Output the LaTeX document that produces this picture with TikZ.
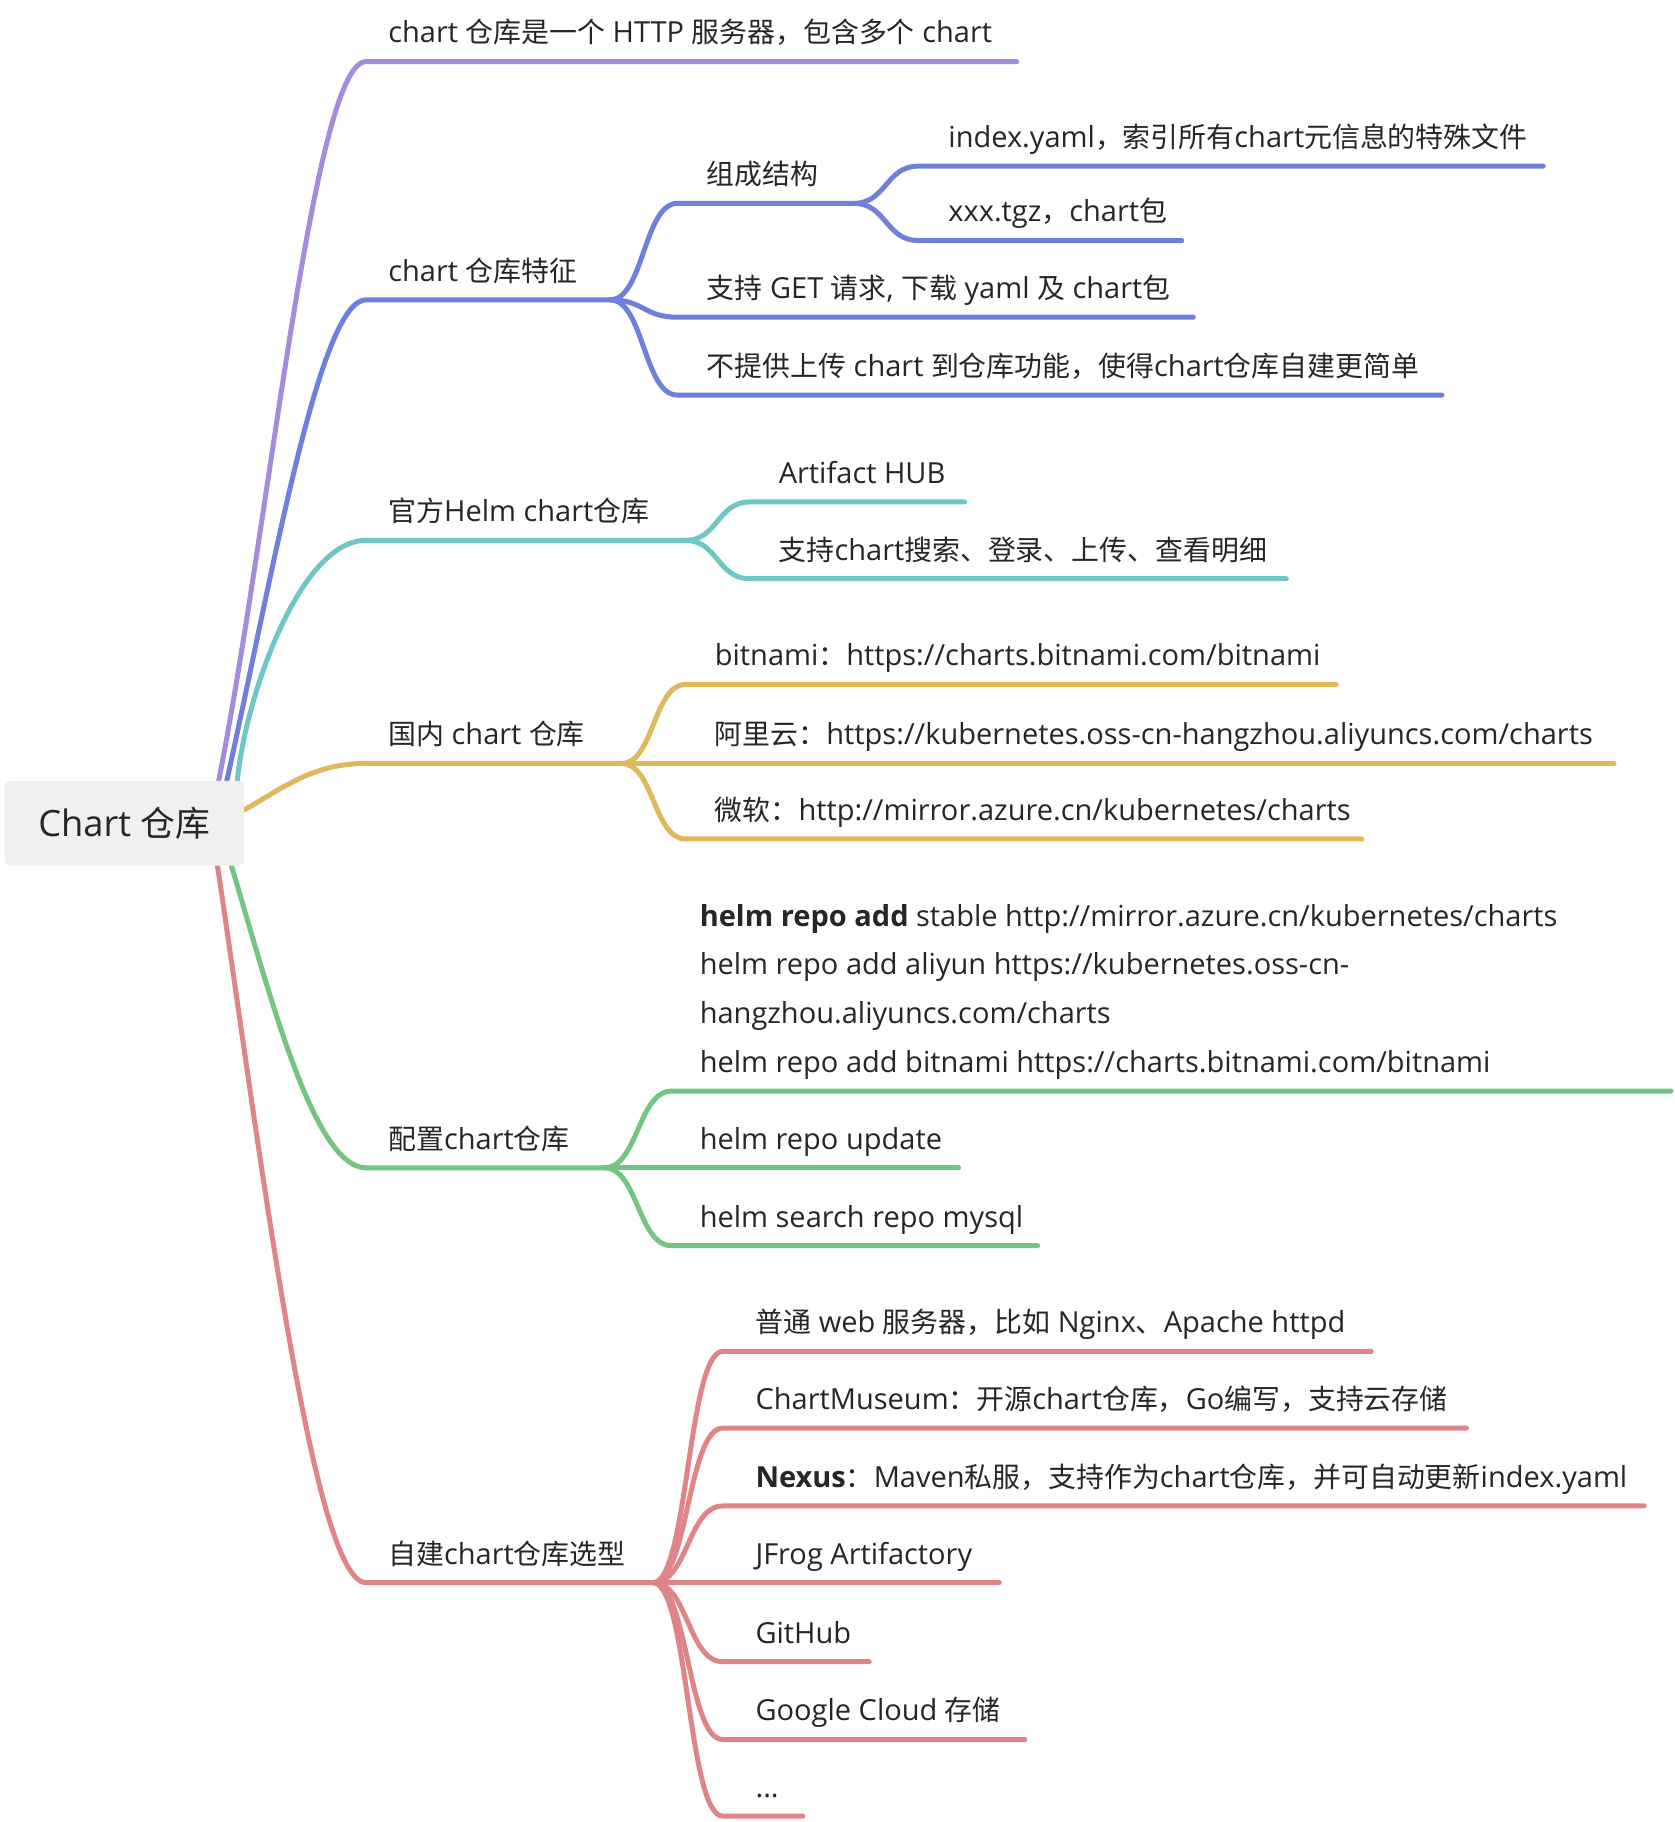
\documentclass[tikz,border=0pt]{standalone}
\usepackage{fontspec}
\setmainfont{Open Sans}[Scale=1.04]
\newfontfamily\cjkfont{Noto Sans CJK SC}
\usetikzlibrary{calc,backgrounds}
% automatic switch between Latin and CJK fonts
\XeTeXinterchartokenstate=1
\newXeTeXintercharclass\mycjkclass
\newcount\mycjkcnt
\def\mysetcjkrange#1#2{\mycjkcnt=#1\relax
  \loop\XeTeXcharclass\mycjkcnt=\mycjkclass\relax
  \ifnum\mycjkcnt<#2\relax\advance\mycjkcnt by 1\relax\repeat}
\mysetcjkrange{"3000}{"303F}
\mysetcjkrange{"4E00}{"9FFF}
\mysetcjkrange{"FF00}{"FFEF}
\XeTeXinterchartoks 0 \mycjkclass = {\cjkfont}
\XeTeXinterchartoks 4095 \mycjkclass = {\cjkfont}
\XeTeXinterchartoks \mycjkclass 0 = {\rmfamily}
\XeTeXinterchartoks \mycjkclass 4095 = {\rmfamily}

\definecolor{cPurple}{HTML}{A38CDB}
\definecolor{cBlue}{HTML}{6E80DB}
\definecolor{cCyan}{HTML}{6EC6C6}
\definecolor{cGold}{HTML}{E0B75A}
\definecolor{cGreen}{HTML}{74C581}
\definecolor{cRed}{HTML}{E08587}
\definecolor{textc}{HTML}{262626}
\definecolor{rootfill}{HTML}{EFF0F0}

\tikzset{
  lbl/.style={inner sep=0pt, anchor=base west, text=textc, font=\fontsize{24}{42}\selectfont},
  conn/.style={line width=4.3pt, line cap=round, line join=round},
  branch/.style={to path={let \p1=(\tikztostart), \p2=(\tikztotarget) in
     .. controls ({\x1+0.5*(\x2-\x1)}, \y1) and ({\x1+0.5*(\x2-\x1)}, \y2) .. (\tikztotarget)}},
}

\newcommand{\mmchild}[8]{%
  \coordinate (#1s) at (#4,#6);
  \coordinate (#1e) at (#5,#6);
  \node[lbl] (#1) at (#7,#6-16) {#8};
  \draw[conn,#2] (#3) to[branch] (#1s) -- (#1e);
}

\begin{document}
\begin{tikzpicture}[x=1pt,y=-1pt]
\useasboundingbox (0,0) rectangle (1441,1568);

% root
\node[fill=rootfill, rounded corners=5pt, minimum width=206pt, minimum height=73pt, inner sep=0pt,
      text=textc, font=\fontsize{30}{36}\selectfont] (root) at (107,708.5) {Chart 仓库};

% level 1 coordinates
\coordinate (n1s) at (315,53);   \coordinate (n1e) at (875,53);
\coordinate (n2s) at (315,258);  \coordinate (n2e) at (525,258);
\coordinate (n3s) at (315,465);  \coordinate (n3e) at (590,465);
\coordinate (n4s) at (315,657);  \coordinate (n4e) at (535,657);
\coordinate (n5s) at (315,1005); \coordinate (n5e) at (520,1005);
\coordinate (n6s) at (315,1362); \coordinate (n6e) at (562,1362);

\node[lbl] (n1) at (334,37) {chart 仓库是一个 HTTP 服务器，包含多个 chart};
\node[lbl] (n2) at (334,242) {chart 仓库特征};
\node[lbl] (n3) at (334,449) {官方Helm chart仓库};
\node[lbl] (n4) at (334,641) {国内 chart 仓库};
\node[lbl] (n5) at (334,989) {配置chart仓库};
\node[lbl] (n6) at (334,1346) {自建chart仓库选型};

\begin{pgfonlayer}{background}
\fill[white] (0,0) rectangle (1441,1568);
\draw[conn,cPurple] ([xshift=-22pt]root.north east) .. controls +(44,-222) and +(-45,0) .. (n1s) -- (n1e);
\draw[conn,cBlue]   ([xshift=-15pt]root.north east) .. controls +(40,-180) and +(-40,0) .. (n2s) -- (n2e);
\draw[conn,cCyan]   ([xshift=-6pt]root.north east) .. controls +(7,-72) and +(-57,0) .. (n3s) -- (n3e);
\draw[conn,cGold]   ([yshift=11.5pt]root.east) .. controls +(35,-20) and +(-45,0) .. (n4s) -- (n4e);
\draw[conn,cGreen]  ([xshift=-11pt]root.south east) .. controls +(33,110) and +(-45,0) .. (n5s) -- (n5e);
\draw[conn,cRed]    ([xshift=-23pt]root.south east) .. controls +(38,256) and +(-45,0) .. (n6s) -- (n6e);
\end{pgfonlayer}

% chart 仓库特征
\mmchild{b1}{cBlue}{n2e}{583}{735}{175}{608}{组成结构}
\mmchild{b11}{cBlue}{b1e}{790}{1328}{143}{816}{index.yaml，索引所有chart元信息的特殊文件}
\mmchild{b12}{cBlue}{b1e}{790}{1017}{207}{816}{xxx.tgz，chart包}
\mmchild{b2}{cBlue}{n2e}{583}{1027}{273}{608}{支持 GET 请求, 下载 yaml 及 chart包}
\mmchild{b3}{cBlue}{n2e}{583}{1241}{340}{608}{不提供上传 chart 到仓库功能，使得chart仓库自建更简单}

% 官方Helm chart仓库
\mmchild{c1}{cCyan}{n3e}{645}{830}{432}{670}{Artifact HUB}
\mmchild{c2}{cCyan}{n3e}{645}{1107}{498}{670}{支持chart搜索、登录、上传、查看明细}

% 国内 chart 仓库
\mmchild{g1}{cGold}{n4e}{590}{1150}{589}{615}{bitnami：https://charts.bitnami.com/bitnami}
\mmchild{g2}{cGold}{n4e}{590}{1389}{657}{615}{阿里云：https://kubernetes.oss-cn-hangzhou.aliyuncs.com/charts}
\mmchild{g3}{cGold}{n4e}{590}{1172}{722}{615}{微软：http://mirror.azure.cn/kubernetes/charts}

% 配置chart仓库
\coordinate (e1s) at (578,939); \coordinate (e1e) at (1438,939);
\node[lbl] (e1) at (602,923) {\begin{tabular}[b]{@{}l@{}}\textbf{helm repo add} stable http://mirror.azure.cn/kubernetes/charts\\
helm repo add aliyun https://kubernetes.oss-cn-\\
hangzhou.aliyuncs.com/charts\\
helm repo add bitnami https://charts.bitnami.com/bitnami\end{tabular}};
\draw[conn,cGreen] (n5e) to[branch] (e1s) -- (e1e);
\mmchild{e2}{cGreen}{n5e}{578}{825}{1005}{602}{helm repo update}
\mmchild{e3}{cGreen}{n5e}{578}{893}{1072}{602}{helm search repo mysql}

% 自建chart仓库选型
\mmchild{r1}{cRed}{n6e}{622}{1180}{1163}{650}{普通 web 服务器，比如 Nginx、Apache httpd}
\mmchild{r2}{cRed}{n6e}{622}{1262}{1229}{650}{ChartMuseum：开源chart仓库，Go编写，支持云存储}
\mmchild{r3}{cRed}{n6e}{622}{1415}{1296}{650}{\textbf{Nexus}：Maven私服，支持作为chart仓库，并可自动更新index.yaml}
\mmchild{r4}{cRed}{n6e}{622}{860}{1362}{650}{JFrog Artifactory}
\mmchild{r5}{cRed}{n6e}{622}{748}{1430}{650}{GitHub}
\mmchild{r6}{cRed}{n6e}{622}{882}{1497}{650}{Google Cloud 存储}
\mmchild{r7}{cRed}{n6e}{622}{691}{1563}{650}{...}
\end{tikzpicture}
\end{document}
